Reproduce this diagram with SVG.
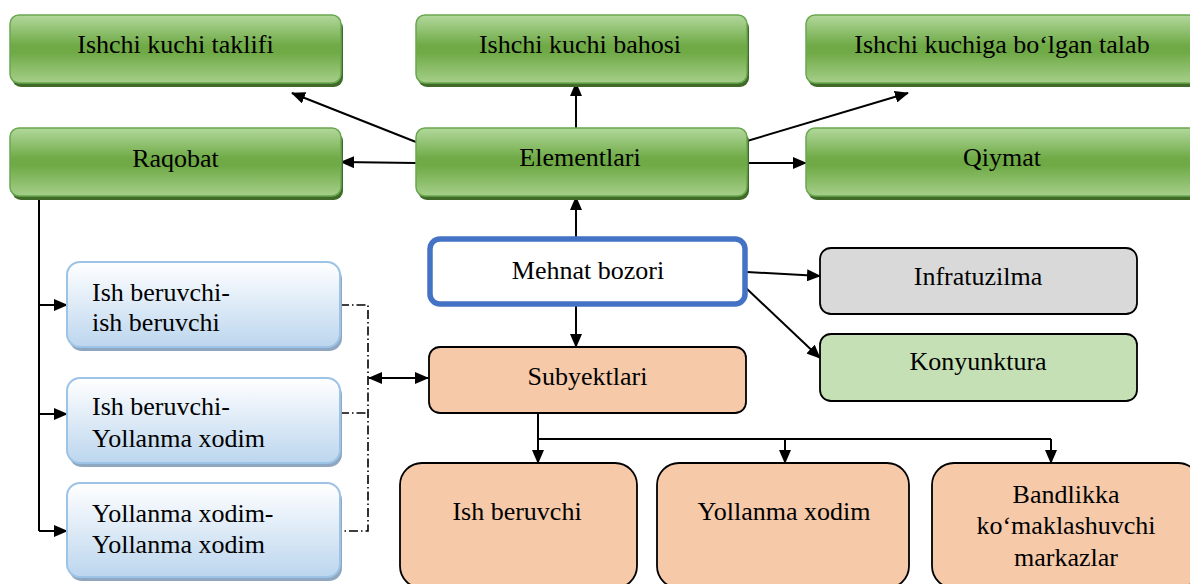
<svg xmlns="http://www.w3.org/2000/svg" width="1190" height="584" viewBox="0 0 1190 584" font-family="'Liberation Serif', 'DejaVu Serif', serif" font-size="26">
<style>
text{font-family:'Liberation Serif','DejaVu Serif',serif;font-size:26px;fill:#000}
.c{text-anchor:middle}
.g{fill:url(#gg);stroke:#6aa84f;stroke-width:1.5}
.gs{fill:#3f6a28}
.b{fill:url(#bg);stroke:#9dc3e6;stroke-width:2}
.bs{fill:#8fa7c0}
.p{fill:#f6c9a9;stroke:#000;stroke-width:1.8}
.ln{fill:none;stroke:#000;stroke-width:2}
.a{marker-end:url(#ah)}
.dd{fill:none;stroke:#000;stroke-width:1.6;stroke-dasharray:9 3 1.5 3}
</style>
<defs>
<linearGradient id="gg" x1="0" y1="0" x2="0" y2="1">
<stop offset="0" stop-color="#b2d89c"/>
<stop offset="0.45" stop-color="#6faa46"/>
<stop offset="0.55" stop-color="#6faa46"/>
<stop offset="1" stop-color="#a6cf8a"/>
</linearGradient>
<linearGradient id="bg" x1="0" y1="0" x2="0" y2="1">
<stop offset="0" stop-color="#ffffff"/>
<stop offset="1" stop-color="#bcd6ee"/>
</linearGradient>
<marker id="ah" markerUnits="userSpaceOnUse" markerWidth="14" markerHeight="12" refX="13" refY="6" orient="auto-start-reverse">
<path d="M0,0 L14,6 L0,12 z" fill="#000"/>
</marker>
</defs>

<g id="connectors">
<line class="ln a" x1="416" y1="142" x2="292" y2="93"/>
<line class="ln a" x1="416" y1="163" x2="341" y2="162"/>
<line class="ln a" x1="576" y1="128" x2="576" y2="83"/>
<line class="ln a" x1="747" y1="141" x2="908" y2="93"/>
<line class="ln a" x1="747" y1="163" x2="806" y2="163"/>
<line class="ln a" x1="576" y1="237" x2="576" y2="197"/>
<line class="ln a" x1="576" y1="306" x2="576" y2="347"/>
<line class="ln a" x1="747" y1="272" x2="820" y2="276"/>
<line class="ln a" x1="746" y1="288" x2="820" y2="358"/>
<line class="ln a" x1="538" y1="413" x2="538" y2="463"/>
<polyline class="ln" points="538,439 1051,439"/>
<line class="ln a" x1="785" y1="439" x2="785" y2="463"/>
<line class="ln a" x1="1051" y1="439" x2="1051" y2="463"/>
<polyline class="ln" points="39,197 39,531"/>
<line class="ln a" x1="39" y1="305" x2="67" y2="305"/>
<line class="ln a" x1="39" y1="414" x2="67" y2="414"/>
<line class="ln a" x1="39" y1="531" x2="67" y2="531"/>
<polyline class="dd" points="340,305 368,305 368,531 340,531"/>
<line class="dd" x1="340" y1="413" x2="368" y2="413"/>
<line class="ln a" x1="369" y1="378" x2="428" y2="378" marker-start="url(#ah)"/>
</g>

<g id="n-taklifi">
<rect class="gs" x="12" y="19" width="331" height="68" rx="9"/>
<rect class="g" x="10" y="15" width="331" height="68" rx="9"/>
<text class="c" x="175.5" y="53">Ishchi kuchi taklifi</text>
</g>
<g id="n-bahosi">
<rect class="gs" x="418" y="19" width="331" height="68" rx="9"/>
<rect class="g" x="416" y="15" width="331" height="68" rx="9"/>
<text class="c" x="580" y="53">Ishchi kuchi bahosi</text>
</g>
<g id="n-talab">
<rect class="gs" x="808" y="19" width="392" height="68" rx="9"/>
<rect class="g" x="806" y="15" width="392" height="68" rx="9"/>
<text class="c" x="1002" y="53">Ishchi kuchiga bo‘lgan talab</text>
</g>
<g id="n-raqobat">
<rect class="gs" x="12" y="132" width="331" height="68" rx="9"/>
<rect class="g" x="10" y="128" width="331" height="68" rx="9"/>
<text class="c" x="175.5" y="167">Raqobat</text>
</g>
<g id="n-elementlari">
<rect class="gs" x="418" y="132" width="331" height="68" rx="9"/>
<rect class="g" x="416" y="128" width="331" height="68" rx="9"/>
<text class="c" x="580" y="166">Elementlari</text>
</g>
<g id="n-qiymat">
<rect class="gs" x="808" y="132" width="392" height="68" rx="9"/>
<rect class="g" x="806" y="128" width="392" height="68" rx="9"/>
<text class="c" x="1002" y="166">Qiymat</text>
</g>

<g id="n-mehnat">
<rect x="430" y="239" width="315" height="65" rx="10" fill="#fff" stroke="#4472c4" stroke-width="5.5"/>
<text class="c" x="588" y="279">Mehnat bozori</text>
</g>
<g id="n-subyektlari">
<rect class="p" x="429" y="347" width="317" height="66" rx="11"/>
<text class="c" x="587.5" y="385">Subyektlari</text>
</g>
<g id="n-infratuzilma">
<rect x="820" y="248" width="317" height="66" rx="11" fill="#d9d9d9" stroke="#000" stroke-width="1.8"/>
<text class="c" x="978" y="285">Infratuzilma</text>
</g>
<g id="n-konyunktura">
<rect x="820" y="334" width="317" height="67" rx="11" fill="#c5e0b4" stroke="#000" stroke-width="1.8"/>
<text class="c" x="978" y="370">Konyunktura</text>
</g>

<g id="n-ib-ib">
<rect class="bs" x="69" y="266" width="273" height="85" rx="13"/>
<rect class="b" x="67" y="262" width="273" height="85" rx="13"/>
<text x="92" y="301">Ish beruvchi-</text>
<text x="92" y="331">ish beruvchi</text>
</g>
<g id="n-ib-yx">
<rect class="bs" x="69" y="382" width="273" height="85" rx="13"/>
<rect class="b" x="67" y="378" width="273" height="85" rx="13"/>
<text x="92" y="415">Ish beruvchi-</text>
<text x="92" y="447">Yollanma xodim</text>
</g>
<g id="n-yx-yx">
<rect class="bs" x="69" y="487" width="273" height="94" rx="13"/>
<rect class="b" x="67" y="483" width="273" height="94" rx="13"/>
<text x="92" y="522">Yollanma xodim-</text>
<text x="92" y="553">Yollanma xodim</text>
</g>

<g id="n-ishberuvchi">
<rect class="p" x="400" y="463" width="237" height="125" rx="22"/>
<text class="c" x="517" y="520">Ish beruvchi</text>
</g>
<g id="n-yollanma">
<rect class="p" x="657" y="463" width="252" height="125" rx="22"/>
<text class="c" x="784" y="520">Yollanma xodim</text>
</g>
<g id="n-bandlikka">
<rect class="p" x="932" y="463" width="268" height="125" rx="22"/>
<text class="c" x="1066" y="503">Bandlikka</text>
<text class="c" x="1066" y="534">ko‘maklashuvchi</text>
<text class="c" x="1066" y="566">markazlar</text>
</g>
</svg>
